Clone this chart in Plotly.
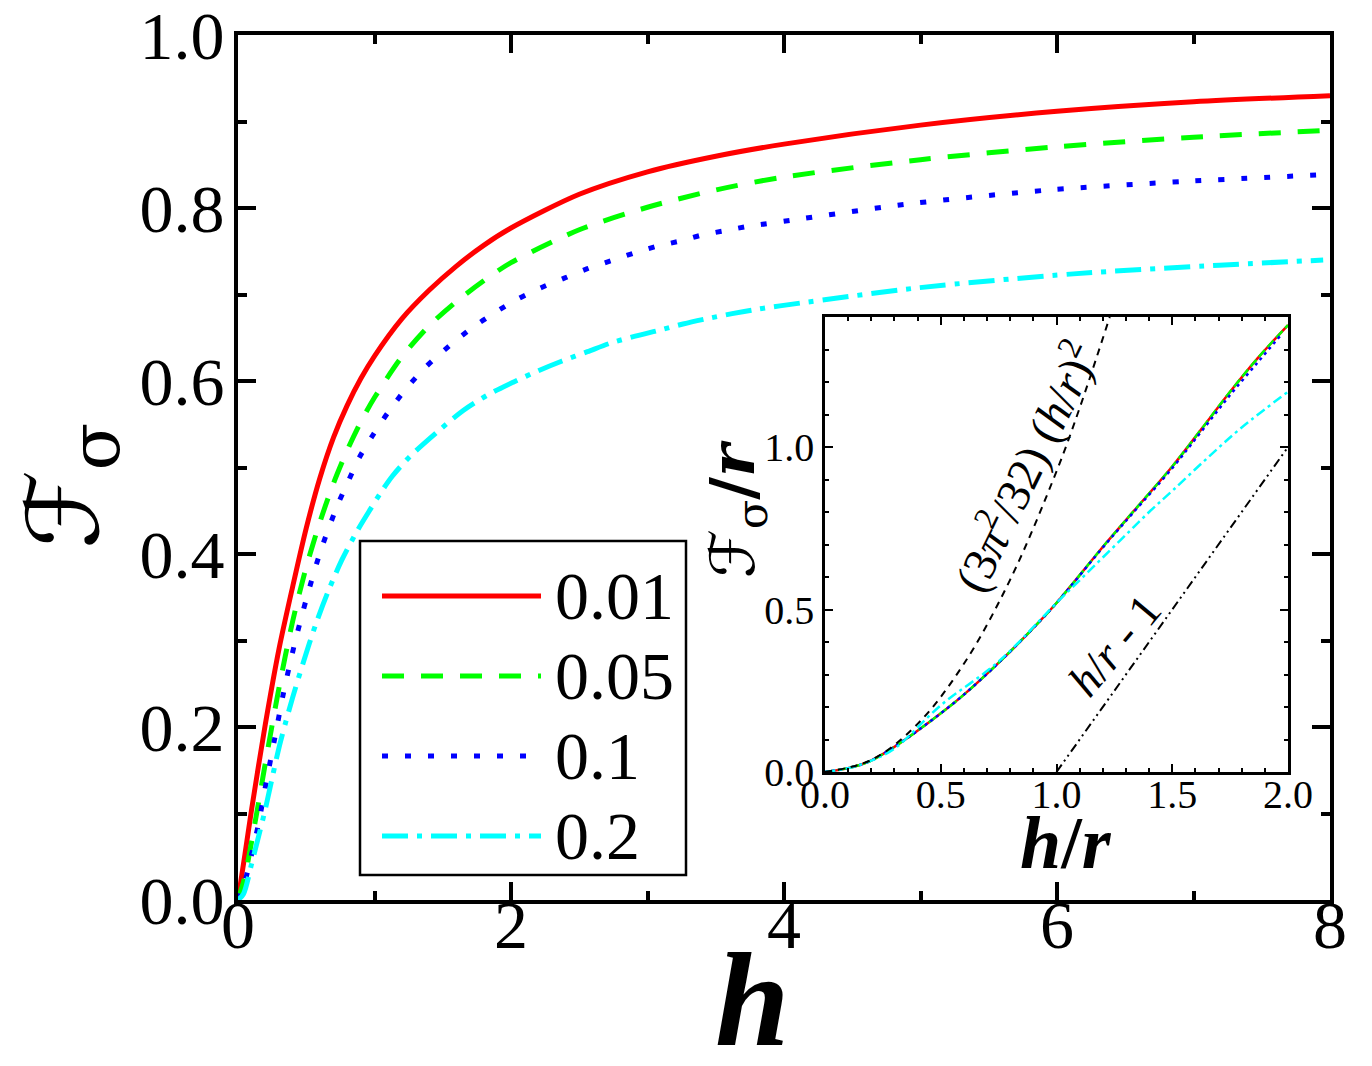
import plotly.graph_objects as go

# main panel: F_sigma(h) for four values of r
h_001 = [0, 0.05, 0.1, 0.2, 0.3, 0.4, 0.5, 0.6, 0.7, 0.8, 0.9, 1.0, 1.2, 1.4, 1.6, 1.8, 2.0,
         2.5, 3.0, 3.5, 4.0, 5.0, 6.0, 7.0, 8.0]
f_001 = [0, 0.052, 0.105, 0.203, 0.29, 0.362, 0.43, 0.488, 0.535, 0.572, 0.603, 0.629, 0.672,
         0.705, 0.733, 0.757, 0.777, 0.816, 0.842, 0.860, 0.874, 0.896, 0.912, 0.923, 0.930]

h_005 = [0, 0.05, 0.1, 0.15, 0.2, 0.3, 0.4, 0.5, 0.6, 0.7, 0.8, 0.9, 1.0, 1.2, 1.4, 1.6, 1.8,
         2.0, 2.5, 3.0, 3.5, 4.0, 5.0, 6.0, 7.0, 8.0]
f_005 = [0, 0.027, 0.068, 0.112, 0.158, 0.245, 0.322, 0.385, 0.437, 0.482, 0.52, 0.553, 0.581,
         0.628, 0.664, 0.692, 0.716, 0.737, 0.775, 0.801, 0.821, 0.836, 0.856, 0.871, 0.882,
         0.890]

h_01 = [0, 0.05, 0.1, 0.145, 0.209, 0.268, 0.334, 0.416, 0.504, 0.606, 0.733, 0.81, 0.89, 0.99,
        1.10, 1.23, 1.38, 1.55, 1.71, 1.88, 2.05, 2.22, 2.39, 2.56, 2.73, 2.90, 3.07, 3.24,
        3.40, 3.57, 3.74, 3.92, 4.92, 5.94, 6.95, 8.0]
f_01 = [0, 0.021, 0.053, 0.084, 0.138, 0.186, 0.240, 0.297, 0.350, 0.404, 0.458, 0.485, 0.512,
        0.538, 0.564, 0.591, 0.617, 0.641, 0.661, 0.679, 0.695, 0.708, 0.719, 0.730, 0.739,
        0.748, 0.756, 0.762, 0.769, 0.774, 0.779, 0.783, 0.805, 0.821, 0.831, 0.839]

h_02 = [0, 0.04, 0.1, 0.15, 0.2, 0.25, 0.3, 0.35, 0.4, 0.481, 0.570, 0.661, 0.76, 0.874, 0.97,
        1.05, 1.13, 1.26, 1.48, 1.65, 1.83, 2.02, 2.20, 2.37, 2.56, 2.73, 2.91, 3.09, 3.26,
        3.43, 3.62, 3.80, 3.97, 4.99, 6.12, 7.19, 7.95]
f_02 = [0, 0.007, 0.042, 0.073, 0.105, 0.141, 0.176, 0.206, 0.234, 0.276, 0.319, 0.357, 0.393,
        0.427, 0.452, 0.472, 0.490, 0.513, 0.544, 0.566, 0.584, 0.599, 0.612, 0.623, 0.634,
        0.644, 0.652, 0.659, 0.666, 0.672, 0.678, 0.683, 0.687, 0.708, 0.724, 0.734, 0.740]

legend_labels = ["0.01", "0.05", "0.1", "0.2"]

# inset: F_sigma/r against h/r
hr_001 = [0, 0.1, 0.187, 0.288, 0.432, 0.59, 0.763, 0.921, 1.0, 1.216, 1.324, 1.5, 1.626, 1.75,
          1.871, 2.0]
fr_001 = [0, 0.012, 0.031, 0.072, 0.144, 0.232, 0.345, 0.459, 0.52, 0.706, 0.795, 0.94, 1.055,
          1.17, 1.275, 1.375]
hr_005 = hr_001
fr_005 = fr_001
hr_01 = [0, 0.1, 0.187, 0.288, 0.432, 0.59, 0.763, 0.921, 1.0, 1.216, 1.324, 1.5, 1.626, 1.75,
         1.871, 1.97]
fr_01 = [0, 0.012, 0.031, 0.072, 0.144, 0.232, 0.345, 0.459, 0.52, 0.704, 0.792, 0.935, 1.048,
         1.16, 1.262, 1.345]
hr_02 = [0, 0.1, 0.2, 0.3, 0.5, 0.75, 1.0, 1.1, 1.2, 1.3, 1.4, 1.5, 1.65, 1.8, 2.0]
fr_02 = [0, 0.012, 0.035, 0.072, 0.205, 0.34, 0.52, 0.59, 0.66, 0.73, 0.80, 0.865, 0.965, 1.06,
         1.17]

# limiting forms drawn as black guide lines
hr_small = [0, 0.2, 0.4, 0.6, 0.8, 1.0, 1.1, 1.23]
fr_small = [0, 0.037, 0.148, 0.333, 0.592, 0.925, 1.12, 1.40]
hr_large = [1.0, 2.0]
fr_large = [0.0, 1.0]

colors = ["#ff0000", "#00ff00", "#0000ff", "#00ffff"]
main_dash = ["solid", "22px,17px", "6px,17px", "26px,9px,5px,9px"]
inset_dash = ["solid", "9px,4px", "3px,4px", "10px,4px,3px,4px"]

W, H = 1372, 1066
OFF = 8  # the page body adds an 8px margin, so target pixels are shifted by it
L, R, T, B = 238 - OFF, 42 + OFF, 35 - OFF, 166 + OFF
PW, PH = W - L - R, H - T - B


def px(x):
    return (x - OFF - L) / PW


def py(y):
    return (H - B - (y - OFF)) / PH


fig = go.Figure()

main_sets = [(h_001, f_001), (h_005, f_005), (h_01, f_01), (h_02, f_02)]
for (hx, fy), c, d in zip(main_sets, colors, main_dash):
    fig.add_trace(go.Scatter(x=hx, y=fy, mode="lines", line_shape="spline",
                             line=dict(color=c, width=5, dash=d, smoothing=0.8),
                             showlegend=False, xaxis="x", yaxis="y"))

inset_sets = [(hr_001, fr_001), (hr_005, fr_005), (hr_01, fr_01), (hr_02, fr_02)]
for (hx, fy), c, d in zip(inset_sets, colors, inset_dash):
    fig.add_trace(go.Scatter(x=hx, y=fy, mode="lines", line_shape="spline",
                             line=dict(color=c, width=2.5, dash=d),
                             showlegend=False, xaxis="x2", yaxis="y2"))

fig.add_trace(go.Scatter(x=hr_small, y=fr_small, mode="lines", line_shape="spline",
                         line=dict(color="black", width=2, dash="7px,6px"),
                         showlegend=False, xaxis="x2", yaxis="y2"))
fig.add_trace(go.Scatter(x=hr_large, y=fr_large, mode="lines",
                         line=dict(color="black", width=2, dash="9px,4px,2px,4px,2px,4px"),
                         showlegend=False, xaxis="x2", yaxis="y2"))

serif = "Liberation Serif, Times New Roman, serif"
main_ax = dict(showline=True, linecolor="black", linewidth=4, mirror="ticks", ticks="inside",
               tickcolor="black", tickwidth=3.5, ticklen=18, showgrid=False, zeroline=False,
               ticklabeloverflow="allow", automargin=False,
               tickfont=dict(family=serif, size=68, color="black"))
inset_ax = dict(showline=True, linecolor="black", linewidth=2.5, mirror="ticks", ticks="inside",
                tickcolor="black", tickwidth=2, ticklen=8, showgrid=False, zeroline=False,
                ticklabeloverflow="allow", automargin=False,
                tickfont=dict(family=serif, size=40, color="black"))

fig.update_layout(
    width=W, height=H,
    margin=dict(l=L, r=R, t=T, b=B, autoexpand=False),
    paper_bgcolor="white", plot_bgcolor="white",
    xaxis=dict(main_ax, range=[0, 8], dtick=2, tickformat="d", ticklabelstandoff=-38,
               minor=dict(dtick=1, ticks="inside", ticklen=9, tickwidth=3.5, tickcolor="black")),
    yaxis=dict(main_ax, range=[0, 1.0002], dtick=0.2, tickformat=".1f", ticklabelstandoff=-4,
               minor=dict(dtick=0.1, ticks="inside", ticklen=9, tickwidth=3.5, tickcolor="black")),
    xaxis2=dict(inset_ax, domain=[px(825), px(1288)], anchor="y2", range=[0, 2], dtick=0.5,
                tickformat=".1f", ticklabelstandoff=-15,
                minor=dict(dtick=0.1, ticks="inside", ticklen=4, tickwidth=2, tickcolor="black")),
    yaxis2=dict(inset_ax, domain=[py(772), py(317)], anchor="x2", range=[0, 1.4], dtick=0.5,
                tickformat=".1f", ticklabelstandoff=0,
                minor=dict(dtick=0.1, ticks="inside", ticklen=4, tickwidth=2, tickcolor="black")),
)

# legend box drawn by hand so the sample lines are as long as in the original
fig.add_shape(type="rect", xref="paper", yref="paper", x0=px(360), x1=px(686),
              y0=py(875), y1=py(541), line=dict(color="black", width=2.5), fillcolor="white",
              layer="above")
for i, (lab, c, d) in enumerate(zip(legend_labels, colors, main_dash)):
    yy = py(596 + 80 * i)
    fig.add_shape(type="line", xref="paper", yref="paper", x0=px(382), x1=px(541), y0=yy, y1=yy,
                  line=dict(color=c, width=5, dash=d), layer="above")
    fig.add_annotation(x=px(553), y=yy, xref="paper", yref="paper", text=lab, showarrow=False,
                       xanchor="left", yanchor="middle",
                       font=dict(family=serif, size=68, color="black"))

# axis titles
fig.add_annotation(x=px(752), y=py(1000), xref="paper", yref="paper", text="<b><i>h</i></b>",
                   showarrow=False, xanchor="center", yanchor="middle",
                   font=dict(family=serif, size=134, color="black"))
fig.add_annotation(x=px(70), y=py(486), xref="paper", yref="paper", text="ℱ<sub>σ</sub>",
                   textangle=-90, showarrow=False, xanchor="center", yanchor="middle",
                   font=dict(family="DejaVu Serif, DejaVu Sans", size=100, color="black"))
fig.add_annotation(x=px(1066), y=py(843), xref="paper", yref="paper",
                   text="<b><i>h</i>/<i>r</i></b>", showarrow=False, xanchor="center",
                   yanchor="middle", font=dict(family=serif, size=74, color="black"))
fig.add_annotation(x=px(736), y=py(509), xref="paper", yref="paper",
                   text="ℱ<sub>σ</sub><b>/<i>r</i></b>", textangle=-90, showarrow=False,
                   xanchor="center", yanchor="middle",
                   font=dict(family="DejaVu Serif, DejaVu Sans", size=62, color="black"))

# labels of the two limiting forms inside the inset
fig.add_annotation(x=0.86, y=0.94, xref="x2", yref="y2",
                   text="(3<i>π</i><sup>2</sup>/32) (<i>h</i>/<i>r</i>)<sup>2</sup>",
                   textangle=-64, showarrow=False,
                   font=dict(family=serif, size=47, color="black"))
fig.add_annotation(x=1.25, y=0.39, xref="x2", yref="y2", text="<i>h</i>/<i>r</i> - 1",
                   textangle=-50, showarrow=False,
                   font=dict(family=serif, size=46, color="black"))

fig.write_html("out.html")
